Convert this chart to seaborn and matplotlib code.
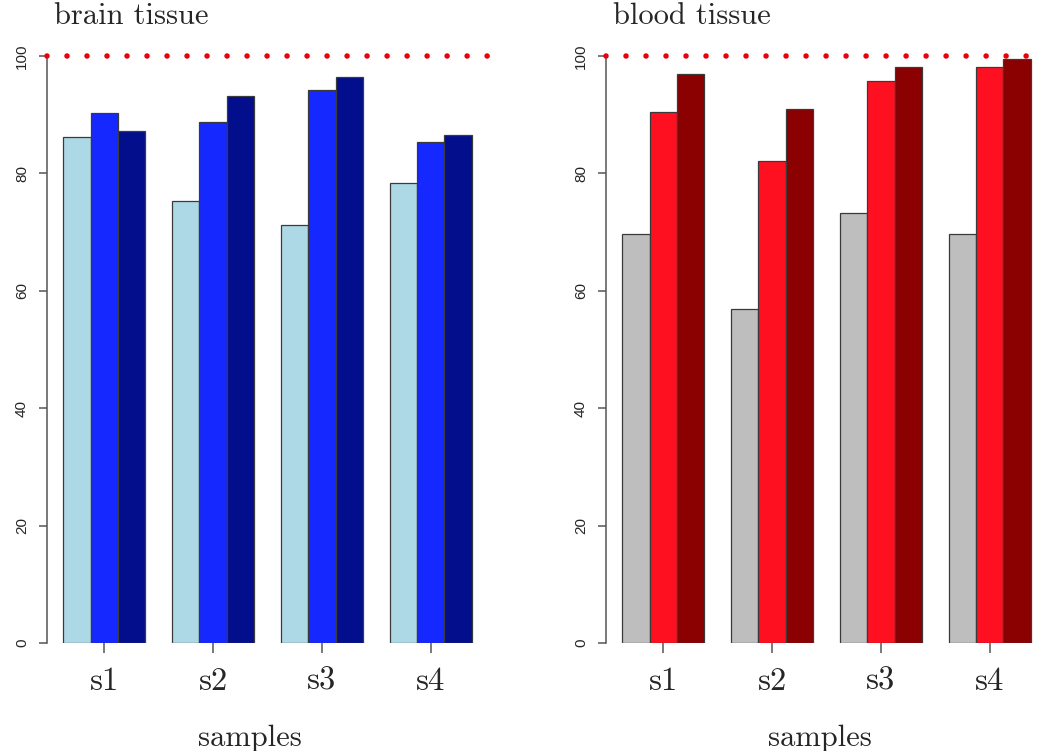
import pandas as pd
import matplotlib.pyplot as plt
import matplotlib.transforms as mtransforms
import seaborn as sns

# data
samples = ['s1', 's2', 's3', 's4']
groups = ['a', 'b', 'c']
brain_a = [86.2, 75.3, 71.2, 78.4]
brain_b = [90.3, 88.8, 94.2, 85.3]
brain_c = [87.2, 93.2, 96.4, 86.5]
blood_a = [69.7, 56.9, 73.3, 69.7]
blood_b = [90.5, 82.1, 95.7, 98.1]
blood_c = [96.9, 91.0, 98.1, 99.5]

brain_cols = ['#ADD8E6', '#1428FF', '#020E8C']
blood_cols = ['#BEBEBE', '#FF1020', '#8B0000']


def to_long(a, b, c):
    rows = []
    for g, vals in zip(groups, [a, b, c]):
        for s, v in zip(samples, vals):
            rows.append({'sample': s, 'grp': g, 'value': v})
    return pd.DataFrame(rows)


sns.set_style('white')
serif = 'cmr10'

fig = plt.figure(figsize=(10.43, 7.51), dpi=100)
ax1 = fig.add_axes([47 / 1043, 0.1438, 441 / 1043, 0.8129])
ax2 = fig.add_axes([606 / 1043, 0.1438, 441 / 1043, 0.8129])

panels = [
    (ax1, to_long(brain_a, brain_b, brain_c), brain_cols, 'brain tissue', 0.459),
    (ax2, to_long(blood_a, blood_b, blood_c), blood_cols, 'blood tissue', 0.485),
]

for ax, df, cols, title, xlab_x in panels:
    sns.barplot(data=df, x='sample', y='value', hue='grp', palette=cols,
                saturation=1, width=0.75, edgecolor='#3a3a3a', linewidth=0.9,
                legend=False, ax=ax, zorder=2)
    ax.set_xlim(-0.525, 3.525)
    ax.set_ylim(0, 104)
    ax.axhline(100, color='#E8000B', lw=4, linestyle=(0, (0.001, 3.6)),
               dash_capstyle='round', zorder=3, clip_on=False)
    ax.patch.set_alpha(0)

    for side in ['top', 'right', 'bottom']:
        ax.spines[side].set_visible(False)
    ax.spines['left'].set_bounds(0, 100)
    ax.spines['left'].set_color('#555555')
    ax.spines['left'].set_linewidth(1.1)

    ax.set_yticks([0, 20, 40, 60, 80, 100])
    ax.set_yticklabels(['0', '20', '40', '60', '80', '100'],
                       rotation=90, va='center', fontsize=11,
                       family='Liberation Sans')
    ax.tick_params(axis='y', length=6, width=1.1, color='#555555', pad=7,
                   left=True)
    ax.tick_params(axis='x', length=7, width=1.1, color='#555555', pad=10,
                   bottom=True)
    ax.set_xticks(range(len(samples)))
    ax.set_xticklabels(samples, fontsize=23.5, family=serif)
    ax.set_xlabel('samples', fontsize=22, family=serif)
    ax.xaxis.set_label_coords(xlab_x, -0.133)
    ax.set_ylabel('')
    trans = mtransforms.blended_transform_factory(ax.transAxes, ax.transData)
    ax.text(0.015, 105.5, title, transform=trans, fontsize=22,
            family=serif, ha='left', va='baseline')

fig.savefig('out.png', dpi=100)
